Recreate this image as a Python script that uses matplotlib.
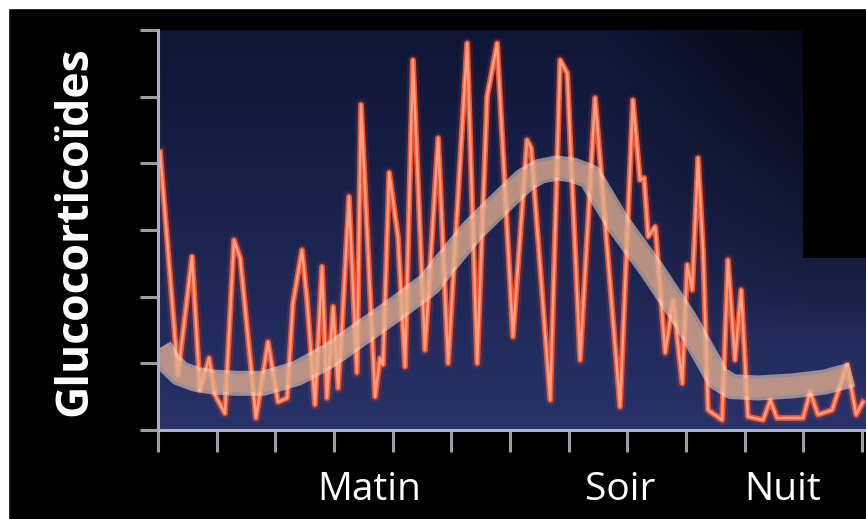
import numpy as np
import matplotlib
matplotlib.use("Agg")
import matplotlib.pyplot as plt
from matplotlib.patches import Rectangle

plt.rcParams['font.family'] = ['Open Sans', 'DejaVu Sans']

# pulsatile secretion (hours, arbitrary level)
pulse_h = [0.07, 0.68, 1.16, 1.43, 1.74, 1.94, 2.28, 2.59, 2.80, 3.34, 3.75, 4.09, 4.40,
           4.60, 4.91, 5.08, 5.35, 5.59, 5.76, 5.97, 6.14, 6.27, 6.51, 6.78, 6.92, 7.40,
           7.57, 7.67, 7.88, 8.18, 8.42, 8.69, 9.10, 9.55, 9.89, 10.54, 10.88, 11.22,
           11.56, 12.10, 12.58, 12.72, 13.37, 13.71, 13.95, 14.39, 14.90, 15.75, 16.19,
           16.43, 16.57, 16.71, 16.95, 17.29, 17.56, 17.87, 18.04, 18.21, 18.41, 18.58,
           18.75, 19.23, 19.43, 19.67, 19.88, 20.11, 20.63, 20.87, 21.10, 21.99, 22.23,
           22.50, 22.98, 23.49, 23.80, 24.03]
pulse_v = [4.17, 0.83, 2.60, 0.60, 1.08, 0.53, 0.25, 2.85, 2.58, 0.18, 1.32, 0.42, 0.48,
           1.90, 2.70, 1.95, 0.38, 2.45, 0.48, 1.85, 0.63, 1.53, 3.50, 0.86, 4.88, 0.50,
           1.08, 0.98, 3.86, 2.90, 0.95, 5.55, 1.20, 4.38, 1.00, 5.80, 1.00, 5.00,
           5.80, 1.40, 4.35, 4.23, 0.45, 5.55, 5.35, 1.05, 4.98, 0.35, 4.95,
           3.75, 3.78, 2.90, 3.05, 1.16, 1.95, 0.70, 2.48, 2.10, 4.08, 2.70,
           0.30, 0.15, 2.55, 1.05, 2.10, 0.20, 0.15, 0.45, 0.18, 0.18, 0.57,
           0.23, 0.30, 0.98, 0.23, 0.42]

# circadian mean
band_h = [0.07, 0.40, 0.75, 1.30, 1.88, 2.70, 3.58, 4.74, 5.86, 6.99, 8.15, 9.27, 9.61,
          10.74, 11.90, 12.50, 13.02, 13.60, 14.15, 14.73, 15.68, 16.84, 17.97, 19.09,
          19.57, 20.46, 21.60, 22.74, 23.66]
band_v = [1.23, 1.00, 0.85, 0.76, 0.72, 0.70, 0.70, 0.85, 1.12, 1.47, 1.83, 2.20, 2.40,
          3.00, 3.50, 3.75, 3.88, 3.93, 3.90, 3.80, 3.10, 2.40, 1.65, 0.78,
          0.65, 0.63, 0.66, 0.72, 0.83]

period_names = ['Matin', 'Soir', 'Nuit']
period_h = [7.19, 15.75, 21.3]

xmax = 24 * (866 - 158) / (862 - 158)

fig = plt.figure(figsize=(8.66, 5.19), dpi=100, facecolor='black')
fig.patches.append(Rectangle((0, 1 - 8 / 519), 1, 8 / 519, transform=fig.transFigure,
                             color='white', zorder=0))
fig.patches.append(Rectangle((0, 0), 8 / 866, 1, transform=fig.transFigure,
                             color='white', zorder=0))

ax = fig.add_axes([158 / 866, 1 - 430 / 519, (866 - 158) / 866, 400 / 519])
ax.set_facecolor('black')

# background gradient
ny, nx = 200, 300
t = np.linspace(0, 1, ny)[:, None]          # 0 bottom, 1 top
s = np.linspace(0, 1, nx)[None, :]          # 0 left, 1 right
bottom_c = np.array([40, 50, 105]) / 255
top_c = np.array([15, 21, 52]) / 255
img = bottom_c * (1 - t[..., None]) + top_c * t[..., None]
dark = 1 - 0.6 * np.clip((s - 0.62) / 0.3, 0, 1) * np.clip((t - 0.25) / 0.75, 0, 1) ** 0.6
img = img * dark[..., None]
ax.imshow(img, extent=(0, xmax, 0, 6), origin='lower', aspect='auto', zorder=0)
ax.add_patch(Rectangle((22.0, 2.58), xmax - 22.0, 6 - 2.58, color='black', zorder=1, lw=0))

# pulses
ax.plot(pulse_h, pulse_v, color='#ff5a3c', lw=8, alpha=0.12, zorder=2, solid_joinstyle='round')
ax.plot(pulse_h, pulse_v, color='#ee5232', lw=4.2, zorder=3, solid_joinstyle='round')
ax.plot(pulse_h, pulse_v, color='#ffa082', lw=1.8, zorder=4, solid_joinstyle='round')

# circadian band
ax.plot(band_h, band_v, color='#fbdcc4', lw=18, alpha=0.55, zorder=5,
        solid_capstyle='butt', solid_joinstyle='round')
ax.plot(band_h, band_v, color='#d39878', lw=13, alpha=0.55, zorder=6,
        solid_capstyle='butt', solid_joinstyle='round')

ax.set_xlim(0, xmax)
ax.set_ylim(0, 6)
ax.set_xticks(np.arange(0, 25, 2))
ax.set_yticks(np.arange(0, 7, 1))
ax.set_xticklabels([])
ax.set_yticklabels([])
ax.tick_params(axis='x', direction='out', length=16, width=2.2, colors='#9c9ca4')
ax.tick_params(axis='y', direction='out', length=13, width=2.2, colors='#9c9ca4')
for side in ['top', 'right']:
    ax.spines[side].set_visible(False)
for side in ['left', 'bottom']:
    ax.spines[side].set_color('#aab0c8')
    ax.spines[side].set_linewidth(2.2)
    ax.spines[side].set_zorder(7)

for name, h in zip(period_names, period_h):
    ax.text(h, -0.175, name, transform=ax.get_xaxis_transform(), ha='center',
            va='baseline', color='white', fontsize=28)

fig.text(75 / 866, 1 - 231 / 519, 'Glucocorticoïdes', rotation=90, ha='center',
         va='center', color='white', fontsize=32, fontweight='bold')

fig.savefig('out.png', dpi=100, facecolor='black')
